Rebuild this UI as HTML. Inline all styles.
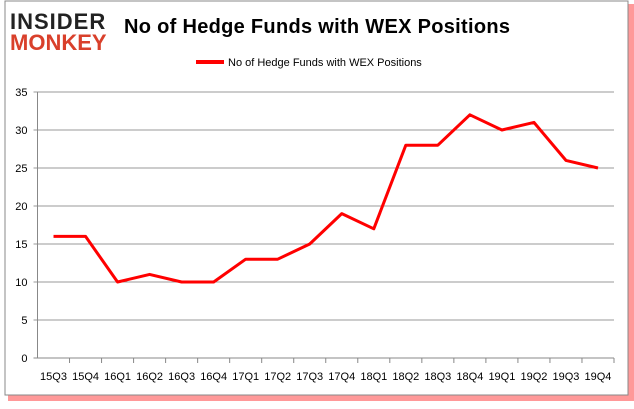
<!DOCTYPE html>
<html><head><meta charset="utf-8"><style>
body{margin:0;background:#fff;width:634px;height:404px;overflow:hidden;font-family:"Liberation Sans",sans-serif}
</style></head><body>
<svg width="634" height="404" xmlns="http://www.w3.org/2000/svg">
<rect x="8" y="4" width="626" height="397" fill="#f33" opacity="0.5"/>
<rect x="5" y="1" width="623" height="394" fill="#fff" stroke="#888" stroke-width="1"/>
<text x="10" y="29" font-size="22" font-weight="bold" fill="#222" font-family="Liberation Sans" letter-spacing="1">INSIDER</text>
<text x="10" y="50" font-size="22" font-weight="bold" fill="#d9402b" font-family="Liberation Sans" letter-spacing="0">MONKEY</text>
<text x="124" y="33" font-size="20" font-weight="bold" fill="#000" textLength="386">No of Hedge Funds with WEX Positions</text>
<line x1="196" y1="62" x2="224" y2="62" stroke="#f00" stroke-width="4"/>
<text x="228" y="66" font-size="11" fill="#000">No of Hedge Funds with WEX Positions</text>
<g id="grid"></g><g id="axes"></g><g id="series"></g>
</svg>
<script>
const categories=["15Q3","15Q4","16Q1","16Q2","16Q3","16Q4","17Q1","17Q2","17Q3","17Q4","18Q1","18Q2","18Q3","18Q4","19Q1","19Q2","19Q3","19Q4"];
const values=[16,16,10,11,10,10,13,13,15,19,17,28,28,32,30,31,26,25];
const yTicks=[0,5,10,15,20,25,30,35];
const NS="http://www.w3.org/2000/svg";
const L=37.5,R=614,T=92,B=358,YMAX=35;
const bw=(R-L)/categories.length;
const xs=i=>L+bw*(i+0.5);
const ys=v=>B-(v/YMAX)*(B-T);
function mk(t,a,p){const e=document.createElementNS(NS,t);for(const k in a)e.setAttribute(k,a[k]);p.appendChild(e);return e;}
const g=document.getElementById('grid'),ax=document.getElementById('axes'),s=document.getElementById('series');
yTicks.forEach(v=>{
 const y=ys(v);
 const ln=mk('line',{x1:L-4,x2:R,y1:y,y2:y,stroke:v===0?'#888':'#999','stroke-width':1},g);
 
 
 const t=mk('text',{x:L-10,y:y+4,'font-size':11,'text-anchor':'end',fill:'#000'},ax);
 t.textContent=v;
 
 
});
const ya=mk('line',{x1:L,x2:L,y1:T,y2:B,stroke:'#888'},ax);


categories.forEach((c,i)=>{
 const tx=L+bw*(i+1);
 const tk=mk('line',{x1:tx,x2:tx,y1:B,y2:B+5,stroke:'#888'},ax);
 
 
 const t=mk('text',{x:xs(i),y:B+22,'font-size':11,'text-anchor':'middle',fill:'#000'},ax);
 t.textContent=c;
 
 
});
const p=mk('polyline',{points:values.map((v,i)=>xs(i)+','+ys(v)).join(' '),fill:'none',stroke:'#f00','stroke-width':3,'stroke-linejoin':'round'},s);


</script>
</body></html>
